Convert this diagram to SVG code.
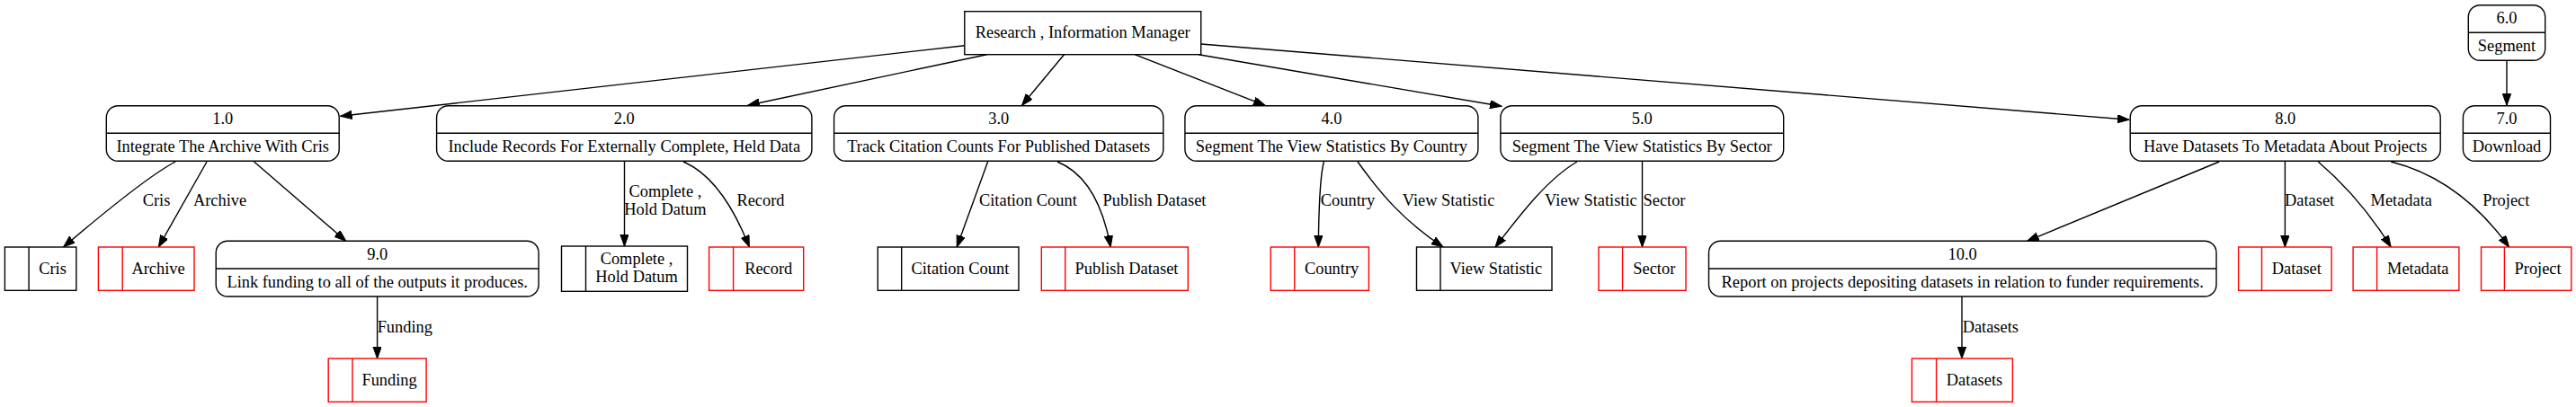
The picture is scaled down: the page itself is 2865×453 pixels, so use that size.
<svg xmlns="http://www.w3.org/2000/svg" width="2865" height="453" viewBox="0 0 2865 453">
<style>
text{font-family:"Liberation Serif","Times New Roman",serif;font-size:18.4px;fill:#000;text-anchor:middle}
.n rect,.n line{fill:none;stroke:#000;stroke-width:1.4}
.n rect.bg{fill:#fff}
.s rect,.s line{fill:#fff;stroke:#000;stroke-width:1.4}
.r rect,.r line{stroke:#ff0000}
#edges path{fill:none;stroke:#000;stroke-width:1.4;marker-end:url(#ah)}
</style>
<defs>
<marker id="ah" markerUnits="userSpaceOnUse" markerWidth="14" markerHeight="10" refX="13" refY="4.7" orient="auto">
<path d="M0,0 L13,4.7 L0,9.4 z" fill="#000" stroke="#000" stroke-width="1"/>
</marker>
</defs>
<rect width="2865" height="453" fill="#fff"/>
<g id="edges">
<path d="M1072.8,50.7 L378.6,129.3"/>
<path d="M1097.5,60.7 L831.7,117.3"/>
<path d="M1183.5,60.7 L1136.5,117.3"/>
<path d="M1262,60.7 L1407,117.3"/>
<path d="M1333,60.7 L1670,118.3"/>
<path d="M1335.7,49 L2367.9,133.3"/>
<path d="M2788,67.3 L2788,117.3"/>
<path d="M195.1,180 Q161,198 70.5,275"/>
<path d="M230,180 L176.3,275"/>
<path d="M282.6,180 L384.8,268.3"/>
<path d="M419.6,330 L419.6,399"/>
<path d="M694.5,179.3 L694.5,274"/>
<path d="M760,180 Q803.3,198.5 833.4,275"/>
<path d="M1098.6,180 L1064.2,275"/>
<path d="M1176,180 Q1221.2,198.5 1235.2,275"/>
<path d="M1472.4,180 Q1467,200 1466.3,275"/>
<path d="M1510,180 C1535,215 1560,245 1605,275"/>
<path d="M1754,180 C1720,200 1690,240 1663,275"/>
<path d="M1826.5,180 L1826.5,275"/>
<path d="M2468.2,180 L2254.6,268.3"/>
<path d="M2541.4,180 L2541.4,275"/>
<path d="M2578.3,180 Q2625,220 2659.2,275"/>
<path d="M2659.2,180 Q2735.9,199.1 2790.6,275"/>
<path d="M2182,330 L2182,399"/>
<text x="174" y="229">Cris</text>
<text x="244.6" y="229">Archive</text>
<text x="450.3" y="369.5">Funding</text>
<text x="739.9" y="218.5">Complete ,</text>
<text x="739.9" y="238.5">Hold Datum</text>
<text x="846" y="229">Record</text>
<text x="1143.4" y="229">Citation Count</text>
<text x="1284" y="229">Publish Dataset</text>
<text x="1499" y="229">Country</text>
<text x="1611" y="229">View Statistic</text>
<text x="1769.4" y="229">View Statistic</text>
<text x="1851" y="229">Sector</text>
<text x="2568.6" y="229">Dataset</text>
<text x="2670.8" y="229">Metadata</text>
<text x="2787.3" y="229">Project</text>
<text x="2213.8" y="369.5">Datasets</text>
</g>
<g id="rim" class="s"><rect x="1072.8" y="12.7" width="262.9" height="48"/><text x="1204.2" y="42.2">Research , Information Manager</text></g>
<g id="p1" class="n"><rect class="bg" x="118.3" y="117.7" width="258.9" height="61.6" rx="13"/><line x1="118.3" y1="148.3" x2="377.2" y2="148.3"/><text x="247.7" y="138.3">1.0</text><text x="247.7" y="169.3">Integrate The Archive With Cris</text></g>
<g id="p2" class="n"><rect class="bg" x="485.6" y="117.7" width="417.3" height="61.6" rx="13"/><line x1="485.6" y1="148.3" x2="902.9" y2="148.3"/><text x="694.3" y="138.3">2.0</text><text x="694.3" y="169.3">Include Records For Externally Complete, Held Data</text></g>
<g id="p3" class="n"><rect class="bg" x="927.6" y="117.7" width="366.2" height="61.6" rx="13"/><line x1="927.6" y1="148.3" x2="1293.8" y2="148.3"/><text x="1110.7" y="138.3">3.0</text><text x="1110.7" y="169.3">Track Citation Counts For Published Datasets</text></g>
<g id="p4" class="n"><rect class="bg" x="1317.9" y="117.7" width="326" height="61.6" rx="13"/><line x1="1317.9" y1="148.3" x2="1643.9" y2="148.3"/><text x="1480.9" y="138.3">4.0</text><text x="1480.9" y="169.3">Segment The View Statistics By Country</text></g>
<g id="p5" class="n"><rect class="bg" x="1668.9" y="117.7" width="314.8" height="61.6" rx="13"/><line x1="1668.9" y1="148.3" x2="1983.7" y2="148.3"/><text x="1826.3" y="138.3">5.0</text><text x="1826.3" y="169.3">Segment The View Statistics By Sector</text></g>
<g id="p8" class="n"><rect class="bg" x="2369.2" y="117.7" width="345" height="61.6" rx="13"/><line x1="2369.2" y1="148.3" x2="2714.2" y2="148.3"/><text x="2541.7" y="138.3">8.0</text><text x="2541.7" y="169.3">Have Datasets To Metadata About Projects</text></g>
<g id="p7" class="n"><rect class="bg" x="2739.4" y="117.7" width="97.1" height="61.6" rx="13"/><line x1="2739.4" y1="148.3" x2="2836.5" y2="148.3"/><text x="2788" y="138.3">7.0</text><text x="2788" y="169.3">Download</text></g>
<g id="p6" class="n"><rect class="bg" x="2745.3" y="5.7" width="85.4" height="61.6" rx="13"/><line x1="2745.3" y1="36.3" x2="2830.7" y2="36.3"/><text x="2788" y="26.3">6.0</text><text x="2788" y="57.3">Segment</text></g>
<g id="p9" class="n"><rect class="bg" x="240.2" y="268.3" width="358.9" height="61.7" rx="13"/><line x1="240.2" y1="299" x2="599.1" y2="299"/><text x="419.7" y="289">9.0</text><text x="419.7" y="320">Link funding to all of the outputs it produces.</text></g>
<g id="p10" class="n"><rect class="bg" x="1900.5" y="268.3" width="564.5" height="61.7" rx="13"/><line x1="1900.5" y1="299" x2="2465" y2="299"/><text x="2182.7" y="289">10.0</text><text x="2182.7" y="320">Report on projects depositing datasets in relation to funder requirements.</text></g>
<g id="d_cris" class="s"><rect x="5.4" y="275" width="79.4" height="48.3"/><line x1="32.1" y1="275" x2="32.1" y2="323.3"/><text x="58.5" y="304.7">Cris</text></g>
<g id="d_archive" class="s r"><rect x="109.4" y="275" width="106.6" height="48.3"/><line x1="136.2" y1="275" x2="136.2" y2="323.3"/><text x="176.1" y="304.7">Archive</text></g>
<g id="d_complete" class="s"><rect x="624.5" y="274" width="140" height="50.3"/><line x1="651.5" y1="274" x2="651.5" y2="324.3"/><text x="708" y="294.2">Complete ,</text><text x="708" y="314.2">Hold Datum</text></g>
<g id="d_record" class="s r"><rect x="788.6" y="275" width="105.1" height="48.3"/><line x1="815.6" y1="275" x2="815.6" y2="323.3"/><text x="854.7" y="304.7">Record</text></g>
<g id="d_citation" class="s"><rect x="976.3" y="275" width="156.7" height="48.3"/><line x1="1002.7" y1="275" x2="1002.7" y2="323.3"/><text x="1067.9" y="304.7">Citation Count</text></g>
<g id="d_publish" class="s r"><rect x="1158.3" y="275" width="163" height="48.3"/><line x1="1184.7" y1="275" x2="1184.7" y2="323.3"/><text x="1253" y="304.7">Publish Dataset</text></g>
<g id="d_country" class="s r"><rect x="1413.3" y="275" width="109.1" height="48.3"/><line x1="1439.8" y1="275" x2="1439.8" y2="323.3"/><text x="1481.1" y="304.7">Country</text></g>
<g id="d_viewstat" class="s"><rect x="1575.5" y="275" width="150.5" height="48.3"/><line x1="1602" y1="275" x2="1602" y2="323.3"/><text x="1663.8" y="304.7">View Statistic</text></g>
<g id="d_sector" class="s r"><rect x="1778" y="275" width="97" height="48.3"/><line x1="1804.6" y1="275" x2="1804.6" y2="323.3"/><text x="1839.8" y="304.7">Sector</text></g>
<g id="d_dataset" class="s r"><rect x="2489.6" y="275" width="103.5" height="48.3"/><line x1="2515.5" y1="275" x2="2515.5" y2="323.3"/><text x="2554.3" y="304.7">Dataset</text></g>
<g id="d_metadata" class="s r"><rect x="2617.1" y="275" width="117.8" height="48.3"/><line x1="2643.6" y1="275" x2="2643.6" y2="323.3"/><text x="2689.3" y="304.7">Metadata</text></g>
<g id="d_project" class="s r"><rect x="2759.5" y="275" width="100.3" height="48.3"/><line x1="2785.4" y1="275" x2="2785.4" y2="323.3"/><text x="2822.6" y="304.7">Project</text></g>
<g id="d_funding" class="s r"><rect x="365.2" y="399" width="108.9" height="48.3"/><line x1="392" y1="399" x2="392" y2="447.3"/><text x="433.1" y="428.7">Funding</text></g>
<g id="d_datasets" class="s r"><rect x="2126.4" y="399" width="112" height="48.3"/><line x1="2153.6" y1="399" x2="2153.6" y2="447.3"/><text x="2196" y="428.7">Datasets</text></g>
</svg>
